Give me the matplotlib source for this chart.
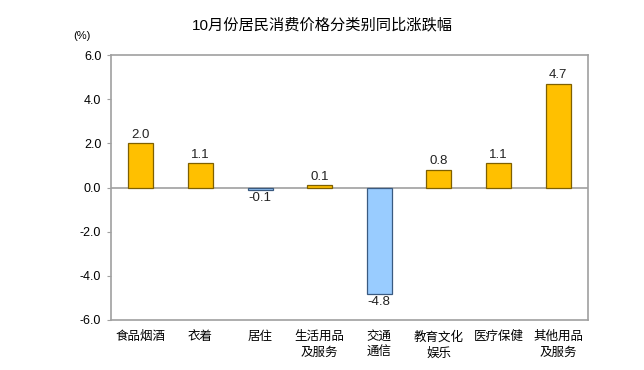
import matplotlib
matplotlib.use("Agg")
import matplotlib.pyplot as plt

plt.rcParams["font.family"] = ["Liberation Sans", "Noto Sans CJK SC", "DejaVu Sans"]

categories = ["食品烟酒", "衣着", "居住", "生活用品\n及服务", "交通\n通信",
              "教育文化\n娱乐", "医疗保健", "其他用品\n及服务"]
values = [2.0, 1.1, -0.1, 0.1, -4.8, 0.8, 1.1, 4.7]
yticks = [-6.0, -4.0, -2.0, 0.0, 2.0, 4.0, 6.0]

fig = plt.figure(figsize=(6.44, 3.70), dpi=100)
ax = fig.add_axes([111 / 644, 1 - 320 / 370, (588 - 111) / 644, (320 - 55) / 370])

x = range(len(categories))
face = ["#FFC000" if v >= 0 else "#99CCFF" for v in values]
edge = ["#7F6000" if v >= 0 else "#3A5A80" for v in values]
ax.bar(x, values, width=0.42, color=face, edgecolor=edge, linewidth=0.9, zorder=3)

# value labels above / below each bar
for i, v in enumerate(values):
    off = 0.12 if v >= 0 else -0.12
    ax.text(i, v + off, f"{v:.1f}", ha="center",
            va="bottom" if v >= 0 else "top", fontsize=9.5, color="#222222")

ax.axhline(0, color="#A0A0A0", linewidth=1.2, zorder=2)
ax.set_xlim(-0.5, len(categories) - 0.5)
ax.set_ylim(-6, 6)
ax.set_yticks(yticks)
ax.set_yticklabels([f"{t:.1f}" for t in yticks], fontsize=9)
ax.set_xticks(list(x))
ax.set_xticklabels(categories, fontsize=9, linespacing=1.4, va="top")
ax.tick_params(axis="x", length=0, pad=8)
ax.tick_params(axis="y", length=3, color="#A0A0A0", pad=4)
for s in ax.spines.values():
    s.set_color("#A0A0A0")
    s.set_linewidth(1.2)

fig.text(0.5, 1 - 25 / 370, "10月份居民消费价格分类别同比涨跌幅",
         ha="center", va="center", fontsize=11)
fig.text(82 / 644, 1 - 36 / 370, "(%)", ha="center", va="center", fontsize=8)

fig.savefig("out.png", dpi=100)
